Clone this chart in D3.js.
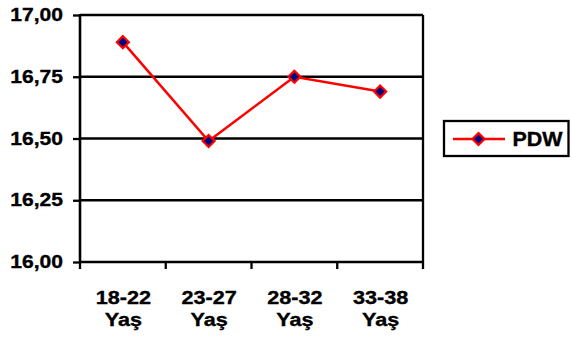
<!DOCTYPE html>
<html>
<head>
<meta charset="utf-8">
<script src="https://cdn.jsdelivr.net/npm/d3@7"></script>
<style>
  html, body { margin: 0; padding: 0; background: #fff; }
  svg { display: block; }
  text { font-family: "Liberation Sans", Arial, sans-serif; font-weight: bold; fill: #000; stroke: #000; stroke-width: 0.35px; }
</style>
</head>
<body>
<svg id="chart" width="571" height="340"></svg>
<script>
const categories = ["18-22 Yaş", "23-27 Yaş", "28-32 Yaş", "33-38 Yaş"];
const seriesName = "PDW";
const pdwValues = [16.89, 16.49, 16.75, 16.69];
const yTicks = [16.00, 16.25, 16.50, 16.75, 17.00];

const svg = d3.select("#chart");
const pLeft = 80, pRight = 423, pTop = 15, pBottom = 262;
const sx = 1.14;

const x = d3.scaleBand().domain(categories).range([pLeft, pRight]).padding(0);
const y = d3.scaleLinear().domain([16, 17]).range([pBottom, pTop]);
const fmt = v => v.toFixed(2).replace(".", ",");

// gridlines
svg.append("g").selectAll("line").data(yTicks.filter(t => t > 16))
  .join("line")
  .attr("x1", pLeft).attr("x2", pRight)
  .attr("y1", d => y(d)).attr("y2", d => y(d))
  .attr("stroke", "#000").attr("stroke-width", 2.3);

// plot border right side
svg.append("line").attr("x1", pRight).attr("x2", pRight).attr("y1", pTop).attr("y2", pBottom)
  .attr("stroke", "#000").attr("stroke-width", 2.3);

// y axis
const yAxis = d3.axisLeft(y).tickValues(yTicks).tickSize(7).tickFormat("");
const yg = svg.append("g").attr("transform", `translate(${pLeft},0)`).call(yAxis);
yg.select(".domain").attr("stroke", "#000").attr("stroke-width", 2.6).attr("d", `M0,${pTop - 1}V${pBottom + 1}`);
yg.selectAll(".tick line").attr("stroke", "#000").attr("stroke-width", 2.3);

// y labels
svg.append("g").selectAll("text").data(yTicks).join("text")
  .attr("transform", d => `translate(63,${y(d) + 6}) scale(${sx},1)`)
  .attr("text-anchor", "end")
  .style("font-size", "18.5px")
  .text(d => fmt(d));

// x axis
const xBoundaries = categories.map(c => x(c)).concat([pRight]);
svg.append("line").attr("x1", pLeft - 1).attr("x2", pRight + 1).attr("y1", pBottom).attr("y2", pBottom)
  .attr("stroke", "#000").attr("stroke-width", 2.6);
svg.append("g").selectAll("line").data(xBoundaries).join("line")
  .attr("x1", d => d).attr("x2", d => d)
  .attr("y1", pBottom).attr("y2", pBottom + 7)
  .attr("stroke", "#000").attr("stroke-width", 2.3);

// x labels
const xl = svg.append("g").selectAll("g").data(categories).join("g")
  .attr("transform", d => `translate(${x(d) + x.bandwidth() / 2 + 0.5},0)`);
xl.append("text")
  .attr("transform", `translate(0,303.5) scale(${sx},1)`)
  .attr("text-anchor", "middle").style("font-size", "19px")
  .text(d => d.split(" ")[0]);
xl.append("text")
  .attr("transform", `translate(0,325.5) scale(${sx},1)`)
  .attr("text-anchor", "middle").style("font-size", "19px")
  .text(d => d.split(" ")[1]);

// line
const data = categories.map((c, i) => ({ c, v: pdwValues[i] }));
svg.append("path").datum(data)
  .attr("fill", "none").attr("stroke", "#ff0000").attr("stroke-width", 2.5)
  .attr("d", d3.line().x(d => x(d.c) + x.bandwidth() / 2).y(d => y(d.v)));

const diamond = (cx, cy, r) => `M${cx},${cy - r}L${cx + r},${cy}L${cx},${cy + r}L${cx - r},${cy}Z`;
svg.append("g").selectAll("path").data(data).join("path")
  .attr("d", d => diamond(x(d.c) + x.bandwidth() / 2, y(d.v), 6))
  .attr("fill", "#000080").attr("stroke", "#ff0000").attr("stroke-width", 2.2);

// legend
const lg = svg.append("g");
lg.append("rect").attr("x", 444).attr("y", 121).attr("width", 124.5).attr("height", 35)
  .attr("fill", "#fff").attr("stroke", "#000").attr("stroke-width", 2.3);
lg.append("line").attr("x1", 453).attr("x2", 505).attr("y1", 139).attr("y2", 139)
  .attr("stroke", "#ff0000").attr("stroke-width", 2.5);
lg.append("path").attr("d", diamond(478.5, 139, 6))
  .attr("fill", "#000080").attr("stroke", "#ff0000").attr("stroke-width", 2.2);
lg.append("text").attr("transform", `translate(512.5,146) scale(1.1,1)`)
  .style("font-size", "19.5px").text(seriesName);
</script>
</body>
</html>
